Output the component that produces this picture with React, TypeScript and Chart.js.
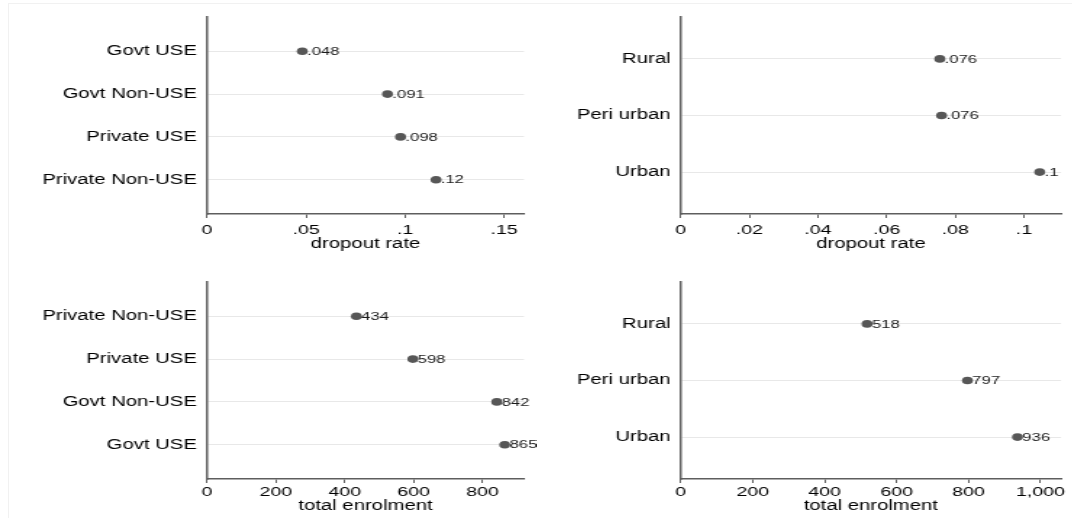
import React, { useEffect, useRef } from 'react';
import { Chart, registerables } from 'chart.js';

Chart.register(...registerables);

// ---------- data ----------
const schoolDropoutCats = ['Govt USE', 'Govt Non-USE', 'Private USE', 'Private Non-USE'];
const schoolDropout = [0.0481, 0.0911, 0.0977, 0.1156];
const schoolDropoutLabels = ['.048', '.091', '.098', '.12'];

const locDropoutCats = ['Rural', 'Peri urban', 'Urban'];
const locDropout = [0.0755, 0.076, 0.1046];
const locDropoutLabels = ['.076', '.076', '.1'];

const schoolEnrolCats = ['Private Non-USE', 'Private USE', 'Govt Non-USE', 'Govt USE'];
const schoolEnrol = [434, 598, 842, 865];
const schoolEnrolLabels = ['434', '598', '842', '865'];

const locEnrolCats = ['Rural', 'Peri urban', 'Urban'];
const locEnrol = [518, 797, 936];
const locEnrolLabels = ['518', '797', '936'];

const dropoutTicksLeft = [0, 0.05, 0.1, 0.15];
const dropoutTicksRight = [0, 0.02, 0.04, 0.06, 0.08, 0.1];
const enrolTicksLeft = [0, 200, 400, 600, 800];
const enrolTicksRight = [0, 200, 400, 600, 800, 1000];

// ---------- styling ----------
const STRETCH = 1.45;
const FONT = "'Liberation Sans', Arial, Helvetica, sans-serif";
const DOT = '#575757';
const AXIS = '#5e5e5e';

const fmtRate = (v: number) => (v === 0 ? '0' : String(v).replace(/^0\./, '.'));
const fmtCount = (v: number) => v.toLocaleString('en-US');

type PanelProps = {
  left: number; top: number; width: number; height: number;
  areaLeft: number; areaRight: number; areaTop: number; areaBottom: number;
  cats: string[]; values: number[]; labels: string[];
  xMax: number; xTicks: number[]; xTitle: string; fmt: (v: number) => string;
  gap: number; tickPad: number; titlePadBottom: number;
};

function Panel(p: PanelProps) {
  const ref = useRef<HTMLCanvasElement>(null);
  const Wu = Math.round(p.width / STRETCH);

  useEffect(() => {
    const canvas = ref.current;
    if (!canvas) return;
    const yW = (p.areaLeft - p.left) / STRETCH;
    const padR = Wu - (p.areaRight - p.left) / STRETCH;
    const padTop = p.areaTop - p.top;
    const xH = p.top + p.height - p.areaBottom;
    const n = p.cats.length;
    const radius = 3.8;

    const labelPlugin = {
      id: 'markerLabels',
      afterDatasetsDraw(chart: any) {
        const ctx = chart.ctx;
        const meta = chart.getDatasetMeta(0);
        ctx.save();
        ctx.font = `11.5px ${FONT}`;
        ctx.fillStyle = '#1a1a1a';
        ctx.textAlign = 'left';
        ctx.textBaseline = 'middle';
        meta.data.forEach((pt: any, i: number) => {
          ctx.fillText(p.labels[i], pt.x + radius - 0.5, pt.y + 0.5);
        });
        ctx.restore();
      },
    };

    const chart = new Chart(canvas, {
      type: 'scatter',
      data: {
        datasets: [
          {
            data: p.values.map((v, i) => ({ x: v, y: i })),
            backgroundColor: DOT,
            borderColor: DOT,
            borderWidth: 0,
            pointRadius: radius,
            pointHoverRadius: radius,
            clip: false as any,
          },
        ],
      },
      options: {
        responsive: false,
        animation: false,
        devicePixelRatio: 1,
        events: [],
        layout: { padding: { left: 0, right: padR, top: padTop, bottom: 0 } },
        plugins: { legend: { display: false }, tooltip: { enabled: false } },
        scales: {
          x: {
            type: 'linear',
            min: 0,
            max: p.xMax,
            afterBuildTicks: (s: any) => {
              s.ticks = p.xTicks.map((v) => ({ value: v }));
            },
            afterFit: (s: any) => {
              s.height = xH;
            },
            ticks: {
              color: '#000',
              font: { family: FONT, size: 13.5 },
              padding: p.tickPad,
              maxRotation: 0,
              autoSkip: false,
              callback: (v: any) => p.fmt(Number(v)),
            },
            grid: {
              display: true,
              drawOnChartArea: false,
              drawTicks: true,
              tickLength: 4,
              color: AXIS,
              lineWidth: 1,
            },
            border: { display: true, color: AXIS, width: 1.5 },
            title: {
              display: true,
              text: p.xTitle,
              color: '#000',
              font: { family: FONT, size: 14 },
              padding: { top: 0, bottom: p.titlePadBottom },
            },
          },
          y: {
            type: 'linear',
            reverse: true,
            min: -p.gap,
            max: n - 1 + p.gap,
            afterBuildTicks: (s: any) => {
              s.ticks = p.cats.map((_, i) => ({ value: i }));
            },
            afterFit: (s: any) => {
              s.width = yW;
            },
            ticks: {
              color: '#000',
              font: { family: FONT, size: 14 },
              padding: 7,
              autoSkip: false,
              callback: (v: any) => p.cats[Number(v)] ?? '',
            },
            grid: { display: true, drawTicks: false, color: '#e8e8e8', lineWidth: 1 },
            border: { display: true, color: AXIS, width: 1.5 },
          },
        },
      } as any,
      plugins: [labelPlugin],
    });
    return () => chart.destroy();
  }, []);

  return (
    <div
      style={{
        position: 'absolute',
        left: p.left,
        top: p.top,
        width: Wu,
        height: p.height,
        transform: `scaleX(${STRETCH})`,
        transformOrigin: '0 0',
      }}
    >
      <canvas ref={ref} width={Wu} height={p.height} style={{ width: Wu, height: p.height, display: 'block' }} />
    </div>
  );
}

export default function App() {
  return (
    <div
      style={{
        position: 'fixed',
        left: 0,
        top: 0,
        width: 1072,
        height: 518,
        background: '#fff',
        overflow: 'hidden',
      }}
    >
      <div style={{ position: 'absolute', left: 8, top: 3, width: 1064, height: 515, borderLeft: '1px solid #f1f1f1', borderTop: '1px solid #f1f1f1' }} />
      <Panel
        left={0} top={0} width={536} height={259}
        areaLeft={207} areaRight={524} areaTop={17} areaBottom={214}
        cats={schoolDropoutCats} values={schoolDropout} labels={schoolDropoutLabels}
        xMax={0.16} xTicks={dropoutTicksLeft} xTitle="dropout rate" fmt={fmtRate}
        gap={0.8} tickPad={4} titlePadBottom={6.5}
      />
      <Panel
        left={536} top={0} width={536} height={259}
        areaLeft={680.7} areaRight={1061} areaTop={17} areaBottom={214}
        cats={locDropoutCats} values={locDropout} labels={locDropoutLabels}
        xMax={0.1108} xTicks={dropoutTicksRight} xTitle="dropout rate" fmt={fmtRate}
        gap={0.74} tickPad={4} titlePadBottom={6.5}
      />
      <Panel
        left={0} top={259} width={536} height={259}
        areaLeft={207} areaRight={524} areaTop={282} areaBottom={479}
        cats={schoolEnrolCats} values={schoolEnrol} labels={schoolEnrolLabels}
        xMax={921} xTicks={enrolTicksLeft} xTitle="total enrolment" fmt={fmtCount}
        gap={0.8} tickPad={1.5} titlePadBottom={3}
      />
      <Panel
        left={536} top={259} width={536} height={259}
        areaLeft={680.7} areaRight={1061} areaTop={282} areaBottom={479}
        cats={locEnrolCats} values={locEnrol} labels={locEnrolLabels}
        xMax={1057} xTicks={enrolTicksRight} xTitle="total enrolment" fmt={fmtCount}
        gap={0.74} tickPad={1.5} titlePadBottom={3}
      />
    </div>
  );
}
